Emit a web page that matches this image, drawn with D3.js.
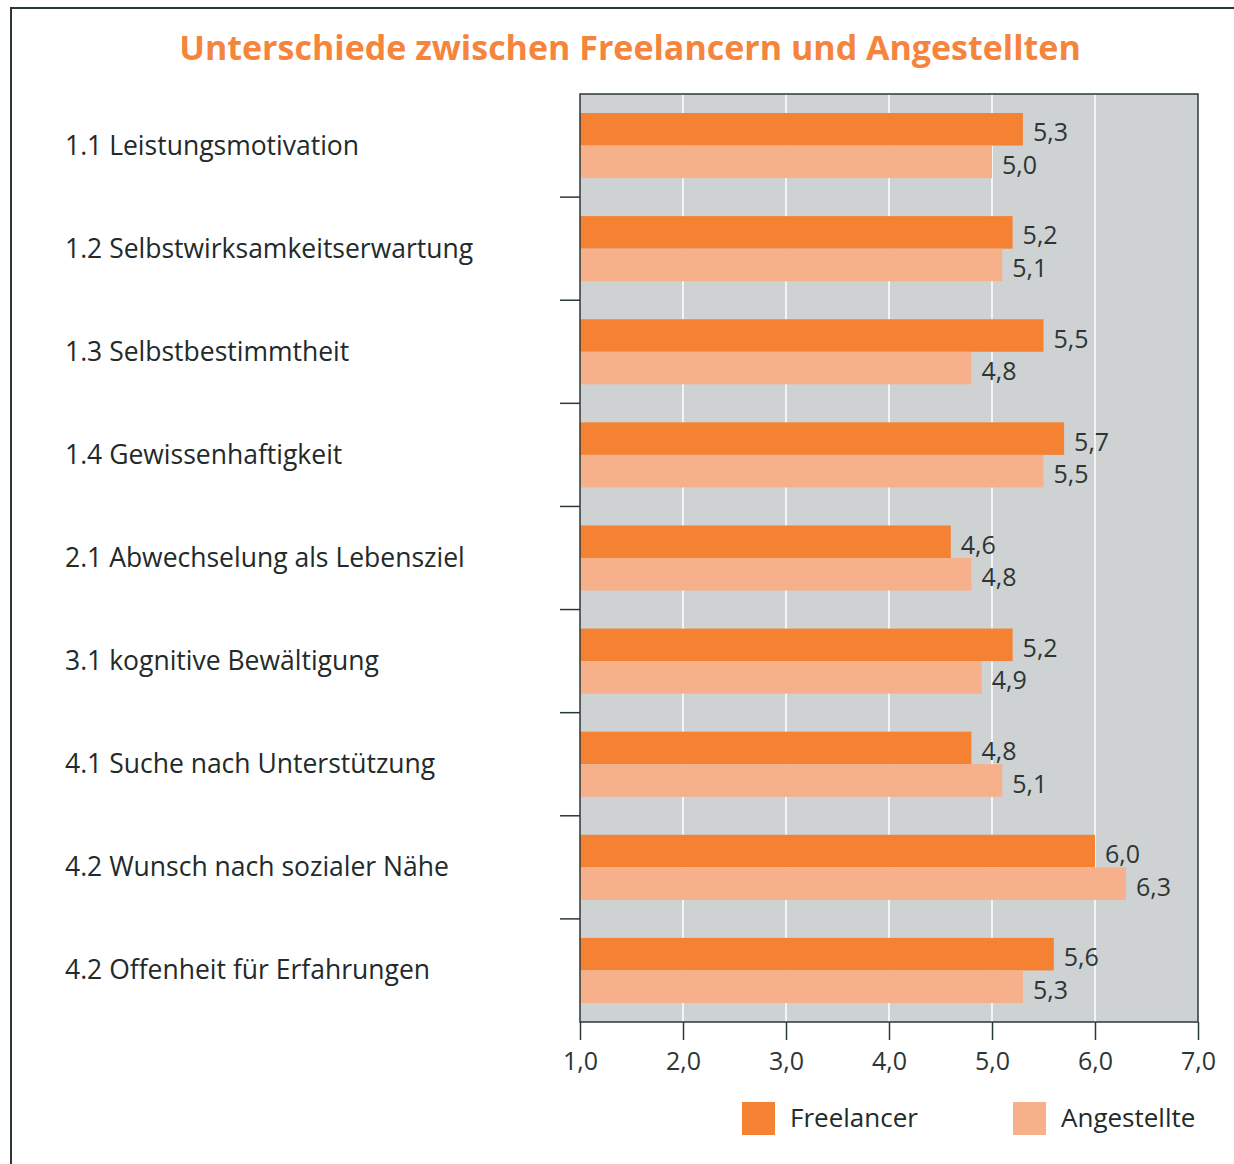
<!DOCTYPE html>
<html><head><meta charset="utf-8">
<script src="https://cdn.jsdelivr.net/npm/d3@7"></script>
<style>html,body{margin:0;padding:0;background:#fff}</style>
</head><body>
<script>
const categories = ["1.1 Leistungsmotivation","1.2 Selbstwirksamkeitserwartung","1.3 Selbstbestimmtheit","1.4 Gewissenhaftigkeit","2.1 Abwechselung als Lebensziel","3.1 kognitive Bewältigung","4.1 Suche nach Unterstützung","4.2 Wunsch nach sozialer Nähe","4.2 Offenheit für Erfahrungen"];
const freelancer = [5.3,5.2,5.5,5.7,4.6,5.2,4.8,6.0,5.6];
const angestellte = [5.0,5.1,4.8,5.5,4.8,4.9,5.1,6.3,5.3];
const seriesNames = ["Freelancer","Angestellte"];
const tickValues = [1,2,3,4,5,6,7];
const title = "Unterschiede zwischen Freelancern und Angestellten";

const W=1234,H=1164;
const svg=d3.select("body").append("svg").attr("width",W).attr("height",H).style("font-family","'Open Sans', sans-serif");
svg.append("rect").attr("width",W).attr("height",H).attr("fill","#fff");
svg.append("path").attr("d","M11,1164 V8 H1234").attr("fill","none").attr("stroke","#2b3838").attr("stroke-width",2);

svg.append("text").attr("x",630).attr("y",60).attr("text-anchor","middle")
  .attr("fill","#f5843c").attr("font-size",34).attr("font-weight",700).text(title);

const L=580,R=1198,T=94,B=1022;
const x=d3.scaleLinear().domain([1,7]).range([L,R]);
const y=d3.scaleBand().domain(categories).range([T,B]).paddingInner(0).paddingOuter(0);
const pad=19;
const bh=(y.bandwidth()-2*pad)/2;

svg.append("rect").attr("x",L).attr("y",T).attr("width",R-L).attr("height",B-T).attr("fill","#cfd2d3");
svg.append("g").selectAll("line").data(tickValues.slice(1,-1)).join("line")
  .attr("x1",d=>x(d)).attr("x2",d=>x(d)).attr("y1",T).attr("y2",B).attr("stroke","#fff").attr("stroke-width",1.5);

const rows=categories.map((c,i)=>({c,f:freelancer[i],a:angestellte[i]}));
const g=svg.append("g");
g.selectAll("rect.f").data(rows).join("rect").attr("x",L).attr("y",d=>y(d.c)+pad).attr("width",d=>x(d.f)-L).attr("height",bh).attr("fill","#f58233");
g.selectAll("rect.a").data(rows).join("rect").attr("x",L).attr("y",d=>y(d.c)+pad+bh).attr("width",d=>x(d.a)-L).attr("height",bh).attr("fill","#f6b08a");
const fmt=v=>d3.format(".1f")(v).replace(".",",");
g.selectAll("text.f").data(rows).join("text").attr("x",d=>x(d.f)+10).attr("y",d=>y(d.c)+pad+bh/2+12).attr("font-size",25).attr("fill","#2d3535").text(d=>fmt(d.f));
g.selectAll("text.a").data(rows).join("text").attr("x",d=>x(d.a)+10).attr("y",d=>y(d.c)+pad+bh*1.5+12).attr("font-size",25).attr("fill","#2d3535").text(d=>fmt(d.a));

// frame of plot
svg.append("rect").attr("x",L).attr("y",T).attr("width",R-L).attr("height",B-T).attr("fill","none").attr("stroke","#2b3838").attr("stroke-width",1.5);

// category axis
svg.append("g").selectAll("line").data(categories.slice(1)).join("line")
  .attr("x1",560).attr("x2",L).attr("y1",d=>y(d)).attr("y2",d=>y(d)).attr("stroke","#2b3838").attr("stroke-width",1.5);
svg.append("g").selectAll("text").data(categories).join("text")
  .attr("x",65).attr("y",d=>y(d)+y.bandwidth()/2+9).attr("font-size",26.5).attr("fill","#222a2a").text(d=>d);

// x axis
const xa=d3.axisBottom(x).tickValues(tickValues).tickSize(18).tickFormat(fmt);
const ag=svg.append("g").attr("transform",`translate(0,${B})`).call(xa);
ag.select(".domain").remove();
ag.selectAll(".tick line").attr("stroke","#2b3838").attr("stroke-width",1.5);
ag.selectAll(".tick text").attr("font-size",25).attr("fill","#2d3535").attr("font-family","'Open Sans', sans-serif").attr("dy","0").attr("y",48);

// legend
const colors=["#f58233","#f6b08a"];
const lx=[742,1013];
seriesNames.forEach((n,i)=>{
  svg.append("rect").attr("x",lx[i]).attr("y",1102).attr("width",33).attr("height",33).attr("fill",colors[i]);
  svg.append("text").attr("x",lx[i]+48).attr("y",1127).attr("font-size",26).attr("fill","#222a2a").text(n);
});
</script>
</body></html>
